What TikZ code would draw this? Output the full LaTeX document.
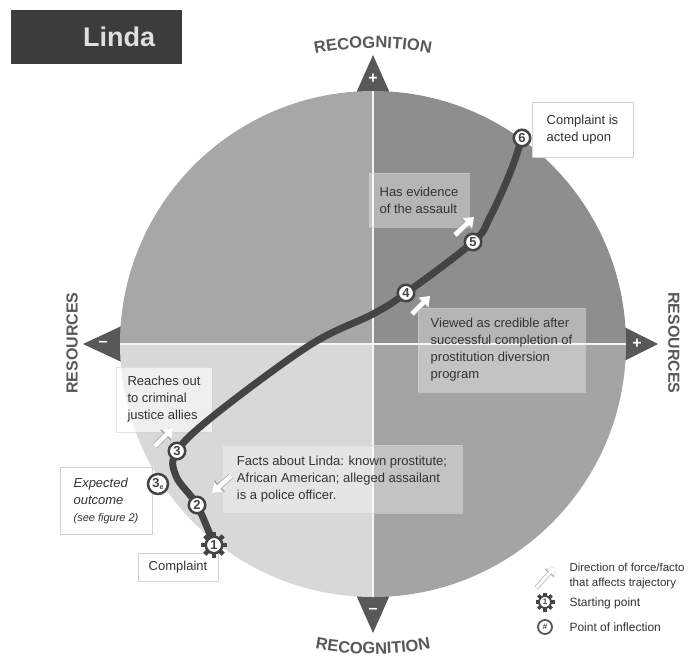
\documentclass[tikz,border=0pt]{standalone}
\usepackage{fontspec}
\setmainfont{Liberation Sans}
\usetikzlibrary{arrows.meta,decorations.text}

\definecolor{quadUL}{HTML}{A7A7A7}
\definecolor{quadUR}{HTML}{8E8E8E}
\definecolor{quadLL}{HTML}{D8D8D8}
\definecolor{quadLR}{HTML}{A4A4A4}
\definecolor{trail}{HTML}{444444}
\definecolor{ink}{HTML}{333333}
\definecolor{tipgray}{HTML}{585858}
\definecolor{titlebg}{HTML}{3C3C3C}

\begin{document}
\begin{tikzpicture}[x=1pt,y=1pt,
  note/.style={draw=gray!35,fill=white,text=ink,align=left,inner xsep=8pt,inner ysep=4pt,
    font=\fontsize{13}{17}\selectfont},
  glass/.style={note,fill opacity=.35,draw opacity=.6,text opacity=1},
  waypt/.style={circle,draw=trail,line width=2.5pt,fill=white,text=trail,inner sep=0pt,
    minimum size=16.5pt,font=\fontsize{13}{13}\selectfont\bfseries},
  force/.style={draw=white,line width=4.5pt,-{Triangle[length=9pt,width=13pt]},
    preaction={draw=gray!70,line width=6pt,-{Triangle[length=10.5pt,width=15pt]}}},
  axisword/.style={font=\fontsize{16}{16}\selectfont\bfseries,text=tipgray},
  sign/.style={text=white,font=\fontsize{16}{16}\selectfont\bfseries},
  legendtext/.style={text=ink,anchor=west,align=left,font=\fontsize{12}{15}\selectfont}]

  \useasboundingbox (0,0) rectangle (691,-661);
  \fill[white] (0,0) rectangle (691,-661);

  % title
  \node[fill=titlebg,text=gray!25,minimum height=54pt,text width=117pt,inner xsep=27pt,
    align=right,font=\fontsize{27}{27}\selectfont\bfseries] (title) at (96.5,-37) {Linda};

  \coordinate (c) at (373,-344);

  % pointers on the axes
  \fill[tipgray] (353,-100) -- (373,-55) -- (393,-100) -- cycle;
  \fill[tipgray] (353,-588) -- (373,-633) -- (393,-588) -- cycle;
  \fill[tipgray] (128,-323) -- (83,-344) -- (128,-365) -- cycle;
  \fill[tipgray] (618,-324) -- (658,-344) -- (618,-364) -- cycle;

  % quadrants
  \fill[quadUR] (c) -- ++(0:253) arc[start angle=0,end angle=90,radius=253] -- cycle;
  \fill[quadUL] (c) -- ++(90:253) arc[start angle=90,end angle=180,radius=253] -- cycle;
  \fill[quadLL] (c) -- ++(180:253) arc[start angle=180,end angle=270,radius=253] -- cycle;
  \fill[quadLR] (c) -- ++(270:253) arc[start angle=270,end angle=360,radius=253] -- cycle;
  \draw[white!92!gray,line width=2pt] (c) ++(180:253) -- ++(506,0);
  \draw[white!92!gray,line width=2pt] (c) ++(90:253) -- ++(0,-506);

  \node[sign] (plusT) at (373,-79) {+};
  \node[sign] (minusB) at (373,-611) {–};
  \node[sign] (minusL) at (103,-344) {–};
  \node[sign] (plusR) at (637,-344) {+};

  % axis titles
  \path[decorate,decoration={text along path,text align=center,text color=tipgray,
    text={|\fontsize{16.5}{16.5}\selectfont\bfseries|RECOGNITION}}]
    (c) ++(112:296) arc[start angle=112,end angle=68,radius=296];
  \path[decorate,decoration={text along path,text align=center,text color=tipgray,
    text={|\fontsize{16.5}{16.5}\selectfont\bfseries|RECOGNITION}}]
    (c) ++(248:310) arc[start angle=248,end angle=292,radius=310];
  \node[axisword,rotate=90] (resL) at (72,-343) {RESOURCES};
  \node[axisword,rotate=-90] (resR) at (674,-343) {RESOURCES};

  % notes
  \node[note,minimum width=101pt,minimum height=55pt] (b6) at (582.5,-129.5) {Complaint is\\acted upon};
  \node[glass,minimum width=100pt,minimum height=54pt] (bEvid) at (419,-200)
    {Has evidence\\of the assault};
  \node[glass,minimum width=167pt,minimum height=84pt] (bView) at (501.5,-350)
    {Viewed as credible after\\successful completion of\\prostitution diversion\\program};
  \node[glass,fill opacity=.6,minimum width=96pt,minimum height=65pt] (bReach) at (164,-399.5)
    {Reaches out\\to criminal\\justice allies};
  \node[glass,minimum width=240pt,minimum height=68pt] (bFacts) at (342,-479)
    {Facts about Linda: known prostitute;\\African American; alleged assailant\\is a police officer.};
  \node[note,minimum width=92pt,minimum height=67pt,font=\fontsize{13}{17}\selectfont\itshape]
    (bExp) at (106,-500.5) {Expected\\outcome\\{\fontsize{11}{17}\selectfont(see figure 2)}};
  \node[note,minimum width=80pt,minimum height=28pt] (bComp) at (178,-567) {Complaint};

  % trajectory
  \coordinate (p1) at (214,-545);
  \coordinate (p2) at (197,-505);
  \coordinate (p3) at (177,-451);
  \coordinate (p4) at (406,-293);
  \coordinate (p5) at (473,-242);
  \coordinate (p6) at (522,-138);
  \coordinate (pe) at (158,-484);
  \draw[trail,line width=7pt,line cap=round] plot[smooth,tension=.6] coordinates
    {(p1) (p2) (176,-476) (p3) (217,-413) (310,-345) (373,-314) (p4) (p5) (490,-217) (510,-173) (p6)};

  % starting point
  \foreach \a in {0,45,...,315}
    \draw[trail,line width=4.5pt] (p1) -- ++(\a:13);
  \node[waypt] (n1) at (p1) {1};
  \node[waypt] (n2) at (p2) {2};
  \node[waypt] (n3) at (p3) {3};
  \node[waypt] (n4) at (p4) {4};
  \node[waypt] (n5) at (p5) {5};
  \node[waypt] (n6) at (p6) {6};
  \node[waypt,minimum size=20pt] (ne) at (pe) {3\raisebox{-2pt}{\fontsize{7}{7}\selectfont e}};

  % forces
  \coordinate (f5a) at (455,-235); \coordinate (f5b) at (474,-217);
  \coordinate (f4a) at (412,-314); \coordinate (f4b) at (430,-296);
  \coordinate (f3a) at (155,-446); \coordinate (f3b) at (173,-428);
  \coordinate (f2a) at (231,-476); \coordinate (f2b) at (212,-493);
  \draw[force] (f5a) -- (f5b);
  \draw[force] (f4a) -- (f4b);
  \draw[force] (f3a) -- (f3b);
  \draw[force] (f2a) -- (f2b);

  % legend
  \coordinate (lga) at (536,-588); \coordinate (lgb) at (555,-567);
  \draw[draw=white,line width=3pt,-{Triangle[length=7pt,width=10pt]},
    preaction={draw=gray!60,line width=4.5pt,-{Triangle[length=8.5pt,width=12.5pt]}}] (lga) -- (lgb);
  \coordinate (lgs) at (545,-602);
  \foreach \a in {0,45,...,315}
    \draw[trail,line width=3.5pt] (lgs) -- ++(\a:9.5);
  \node[waypt,line width=1.8pt,minimum size=12pt,font=\fontsize{8}{8}\selectfont\bfseries] (lgstart) at (lgs) {1};
  \node[waypt,line width=1.8pt,draw=trail!90,minimum size=14pt,font=\fontsize{8}{8}\selectfont\bfseries]
    (lginfl) at (545,-627) {\#};
  \node[legendtext,font=\fontsize{11.5}{15}\selectfont] (lgt1) at (566,-576) {Direction of force/facto\\that affects trajectory};
  \node[legendtext] (lgt2) at (566,-603) {Starting point};
  \node[legendtext] (lgt3) at (566,-627) {Point of inflection};
\end{tikzpicture}
\end{document}
